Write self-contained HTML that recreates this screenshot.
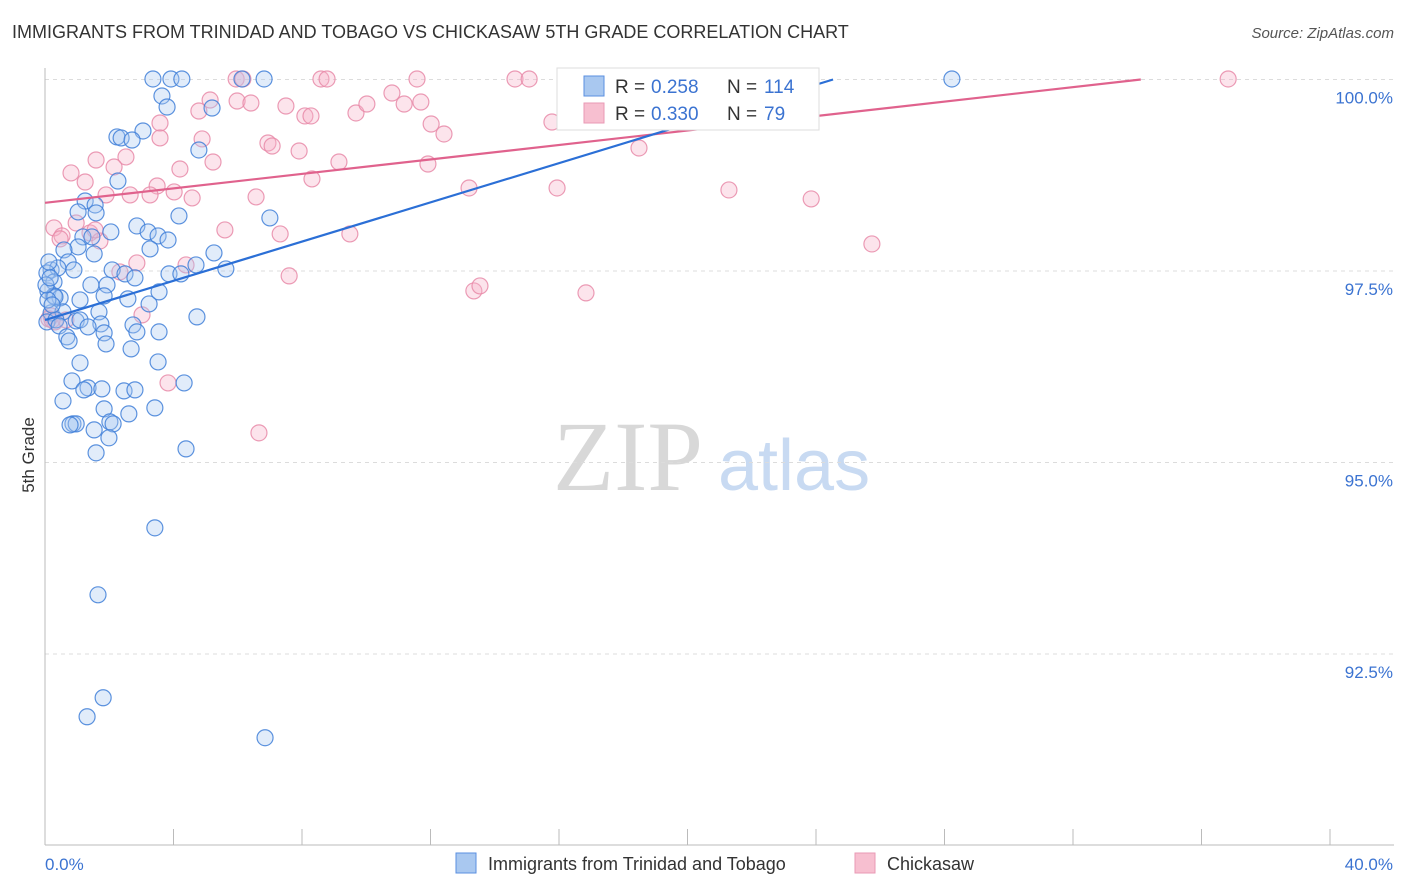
<!DOCTYPE html>
<html><head><meta charset="utf-8"><style>
body{margin:0;background:#fff;font-family:"Liberation Sans",sans-serif;}
#wrap{position:relative;width:1406px;height:892px;overflow:hidden;}
.t{position:absolute;white-space:nowrap;}
</style></head><body>
<div id="wrap">
<div class="t" style="left:12px;top:22px;font-size:18px;color:#333;">IMMIGRANTS FROM TRINIDAD AND TOBAGO VS CHICKASAW 5TH GRADE CORRELATION CHART</div>
<div class="t" style="right:12px;top:25px;font-size:15px;color:#555;font-style:italic;">Source: ZipAtlas.com</div>
<svg id="svg" width="1406" height="892" style="position:absolute;left:0;top:0"></svg>
</div>
<script>
const xTicks=[0,4,8,12,16,20,24,28,32,36,40];
const yTicks=[92.5,95,97.5,100];
const yTickLabels=["92.5%","95.0%","97.5%","100.0%"];
const xEndLabels=["0.0%","40.0%"];
const seriesNames=["Immigrants from Trinidad and Tobago","Chickasaw"];
const rValues=["0.258","0.330"];
const nValues=["114","79"];
// blue points in pixel-read form converted: x (%), y (%)
const bluePx=[[153,79],[171,79],[182,79],[242,79],[264,79],[952,79],[162,96],[167,107],[212,108],[143,131],[117,137],[121,138],[132,140],[199,150],[118,181],[85,201],[95,205],[78,212],[96,213],[179,216],[270,218],[137,226],[111,232],[148,232],[158,236],[83,237],[168,240],[92,237],[78,247],[64,250],[150,249],[94,254],[214,253],[68,262],[51,270],[58,268],[74,270],[47,273],[112,270],[125,274],[135,278],[169,274],[181,274],[196,265],[226,269],[54,282],[91,285],[107,285],[48,291],[54,296],[60,298],[55,297],[80,300],[104,296],[128,299],[149,304],[159,292],[51,313],[63,312],[99,312],[47,322],[56,320],[76,321],[80,320],[101,324],[59,326],[88,327],[133,325],[137,332],[197,317],[67,337],[69,341],[104,333],[106,344],[131,349],[159,332],[80,363],[158,362],[72,381],[88,388],[84,390],[102,389],[124,391],[135,390],[184,383],[63,401],[104,409],[129,414],[155,408],[73,424],[76,424],[94,430],[70,425],[110,422],[113,424],[109,438],[96,453],[186,449],[155,528],[98,595],[103,698],[87,717],[265,738],[48,300],[52,305],[46,285],[50,278],[49,262]];
const pinkPx=[[236,79],[243,79],[321,79],[327,79],[417,79],[515,79],[529,79],[580,79],[1228,79],[210,100],[237,101],[251,103],[286,106],[305,116],[311,116],[356,113],[367,104],[392,93],[404,104],[421,102],[160,123],[199,111],[431,124],[552,122],[444,134],[202,139],[268,143],[272,146],[299,151],[339,162],[428,164],[639,148],[126,157],[96,160],[71,173],[85,182],[114,167],[180,169],[213,162],[312,179],[157,186],[106,195],[130,195],[150,195],[174,192],[192,198],[256,197],[469,188],[557,188],[729,190],[811,199],[54,228],[62,236],[76,223],[90,233],[100,241],[225,230],[280,234],[350,234],[872,244],[137,263],[186,265],[289,276],[120,272],[474,291],[480,286],[586,293],[142,315],[168,383],[259,433],[51,316],[55,322],[95,230],[60,239],[66,320],[49,319],[52,320],[160,138]];
const blueX=bluePx.map(p=>+((p[0]-45)*0.03113).toFixed(2));
const blueY=bluePx.map(p=>+(100-(p[1]-79.5)*0.01305).toFixed(3));
const pinkX=pinkPx.map(p=>+((p[0]-45)*0.03113).toFixed(2));
const pinkY=pinkPx.map(p=>+(100-(p[1]-79.5)*0.01305).toFixed(3));
const blueTrend=[96.86,0.128];
const pinkTrend=[98.39,0.0472];

const X0=45,X1=1330,Y100=79.5,PXY=76.6;
const sx=v=>X0+(v/40)*(X1-X0);
const sy=v=>Y100+(100-v)*PXY;
const svg=document.getElementById('svg');
const NS='http://www.w3.org/2000/svg';
function mk(tag,attrs){const e=document.createElementNS(NS,tag);for(const k in attrs)e.setAttribute(k,attrs[k]);svg.appendChild(e);return e;}
// watermark
let w=mk('text',{x:553,y:490,'font-size':100,'font-family':'Liberation Serif,serif',fill:'#d8d8d8'});w.textContent='ZIP';


w=mk('text',{x:718,y:490,'font-size':72,'font-family':'Liberation Sans,sans-serif',fill:'#c8daf2'});w.textContent='atlas';


// grid
yTicks.forEach((v,i)=>{
 const g=mk('line',{x1:X0,x2:1394,y1:sy(v),y2:sy(v),stroke:'#dcdcdc','stroke-dasharray':'4,4'});
 
 
 const t=mk('text',{x:1393,y:sy(v)+24,'text-anchor':'end','font-size':17,fill:'#3b73d1'});t.textContent=yTickLabels[i];
 
 
});
let a=mk('line',{x1:X0,x2:X0,y1:68,y2:845,stroke:'#bbb'});


a=mk('line',{x1:X0,x2:1394,y1:845,y2:845,stroke:'#bbb'});


xTicks.forEach(v=>{const t=mk('line',{x1:sx(v),x2:sx(v),y1:829,y2:845,stroke:'#bbb'});
 
 });
let tx=mk('text',{x:45,y:870,'font-size':17,fill:'#3b73d1'});tx.textContent=xEndLabels[0];


tx=mk('text',{x:1393,y:870,'font-size':17,fill:'#3b73d1','text-anchor':'end'});tx.textContent=xEndLabels[1];


tx=mk('text',{x:34,y:455,'font-size':17,fill:'#333','text-anchor':'middle',transform:'rotate(-90 34 455)'});tx.textContent='5th Grade';


// points
function pts(xs,ys,fill,stroke,name){xs.forEach((x,i)=>{const c=mk('circle',{cx:sx(x),cy:sy(ys[i]),r:8,fill:fill,'fill-opacity':0.35,stroke:stroke,'stroke-width':1.2,'stroke-opacity':0.85});
 
 });}
pts(pinkX,pinkY,'#f5b3c8','#e889a8','chickasaw-point');
pts(blueX,blueY,'#a9c8f0','#3f7fd8','trinidad-point');
function trend(tr,color,name){const xe=Math.min(40,(100-tr[0])/tr[1]);const l=mk('line',{x1:sx(0),y1:sy(tr[0]),x2:sx(xe),y2:sy(tr[0]+tr[1]*xe),stroke:color,'stroke-width':2.2});
 
 }
trend(pinkTrend,'#e0628d','chickasaw-trend-line');
trend(blueTrend,'#2b6fd6','trinidad-trend-line');
// top legend
let r=mk('rect',{x:557,y:68,width:262,height:62,fill:'#fff',stroke:'#ddd'});


[['#a9c8f0','#5a8fe0'],['#f7bfd0','#e99ab5']].forEach((c,i)=>{
 const y=76+i*27;
 const s=mk('rect',{x:584,y:y,width:20,height:20,fill:c[0],stroke:c[1]});
 
 
 let t=mk('text',{x:615,y:y+17,'font-size':19,fill:'#333'});t.textContent='R = ';
 
 
 t=mk('text',{x:651,y:y+17,'font-size':19,fill:'#3b73d1'});t.textContent=rValues[i];
 
 
 t=mk('text',{x:727,y:y+17,'font-size':19,fill:'#333'});t.textContent='N = ';
 
 
 t=mk('text',{x:764,y:y+17,'font-size':19,fill:'#3b73d1'});t.textContent=nValues[i];
 
 
});
// bottom legend
[[456,'#a9c8f0','#5a8fe0',488],[855,'#f7bfd0','#e99ab5',887]].forEach((c,i)=>{
 const s=mk('rect',{x:c[0],y:853,width:20,height:20,fill:c[1],stroke:c[2]});
 
 
 const t=mk('text',{x:c[3],y:870,'font-size':18,fill:'#333'});t.textContent=seriesNames[i];
 
 
});
</script>
</body></html>
